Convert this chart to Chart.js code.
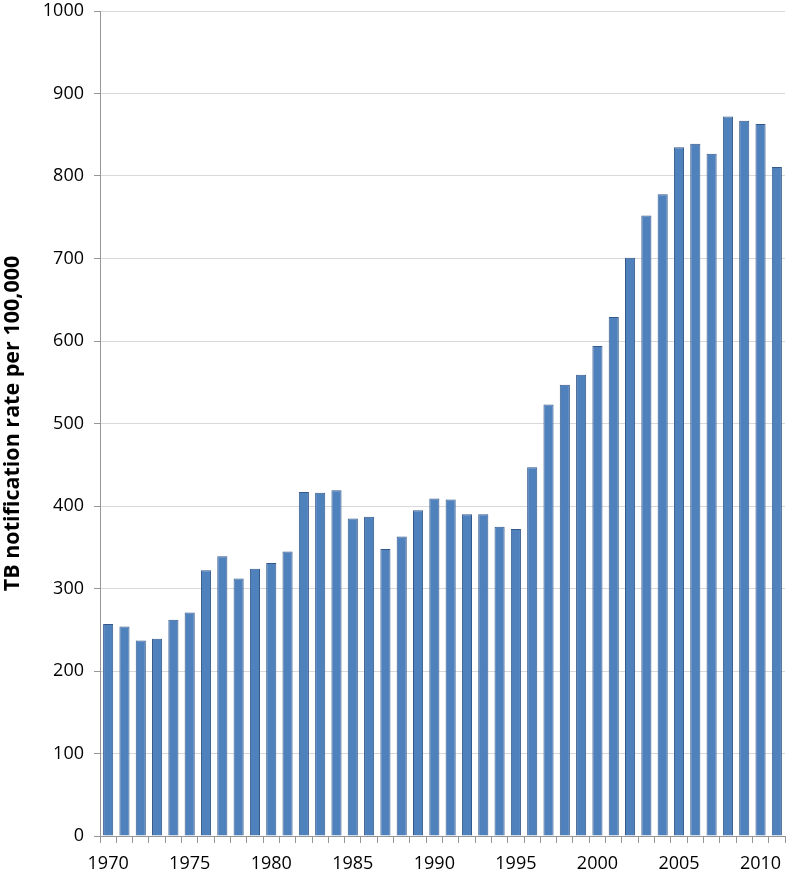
<!DOCTYPE html>
<html>
<head>
<meta charset="utf-8">
<script src="https://cdn.jsdelivr.net/npm/chart.js@4"></script>
<style>
  html, body { margin: 0; padding: 0; background: #fff; }
  #wrap { width: 787px; height: 873px; position: relative; }
</style>
</head>
<body>
<div id="wrap"><canvas id="chart"></canvas></div>
<script>
// data
const years = [];
for (let y = 1970; y <= 2011; y++) years.push(String(y));

const rates = [
  257, 254, 237, 239, 262, 271, 322, 339, 312, 324,
  331, 345, 417, 416, 419, 385, 387, 348, 363, 395,
  409, 408, 390, 390, 375, 372, 447, 523, 547, 559,
  594, 629, 701, 752, 778, 835, 839, 827, 872, 867,
  863, 811
];

const yTicks = [0, 100, 200, 300, 400, 500, 600, 700, 800, 900, 1000];
const yTitle = 'TB notification rate per 100,000';

const FONT = '"Open Sans", "DejaVu Sans", sans-serif';

new Chart(document.getElementById('chart'), {
  type: 'bar',
  data: {
    labels: years,
    datasets: [{
      data: rates,
      backgroundColor: '#4f81bd',
      borderColor: '#34588a',
      borderWidth: 1,
      barPercentage: 0.62,
      categoryPercentage: 1
    }]
  },
  options: {
    responsive: true,
    maintainAspectRatio: false,
    animation: false,
    layout: { padding: { left: 0, right: 2, top: 0, bottom: 0 } },
    plugins: { legend: { display: false }, tooltip: { enabled: false } },
    scales: {
      x: {
        grid: { offset: true, drawOnChartArea: false, color: '#969696', tickLength: 7 },
        border: { color: '#969696' },
        ticks: {
          autoSkip: false,
          maxRotation: 0,
          color: '#000',
          font: { family: FONT, size: 18 },
          padding: 10,
          callback: function (v, i) {
            const lab = years[i];
            return Number(lab) % 5 === 0 ? lab : '';
          }
        },
        afterFit: (s) => { s.height = 37; }
      },
      y: {
        min: 0,
        max: 1000,
        afterBuildTicks: (s) => { s.ticks = yTicks.map(v => ({ value: v })); },
        grid: { color: '#d9d9d9', tickLength: 6, tickColor: '#969696' },
        border: { color: '#969696' },
        ticks: {
          color: '#000',
          font: { family: FONT, size: 18 },
          padding: 10,
          callback: (v) => String(v)
        },
        title: {
          display: true,
          text: yTitle,
          color: '#000',
          font: { family: FONT, size: 21.5, weight: 'bold' },
          padding: 0
        },
        afterFit: (s) => { s.width = 100; s.paddingTop = 11; }
      }
    }
  }
});
</script>
</body>
</html>
